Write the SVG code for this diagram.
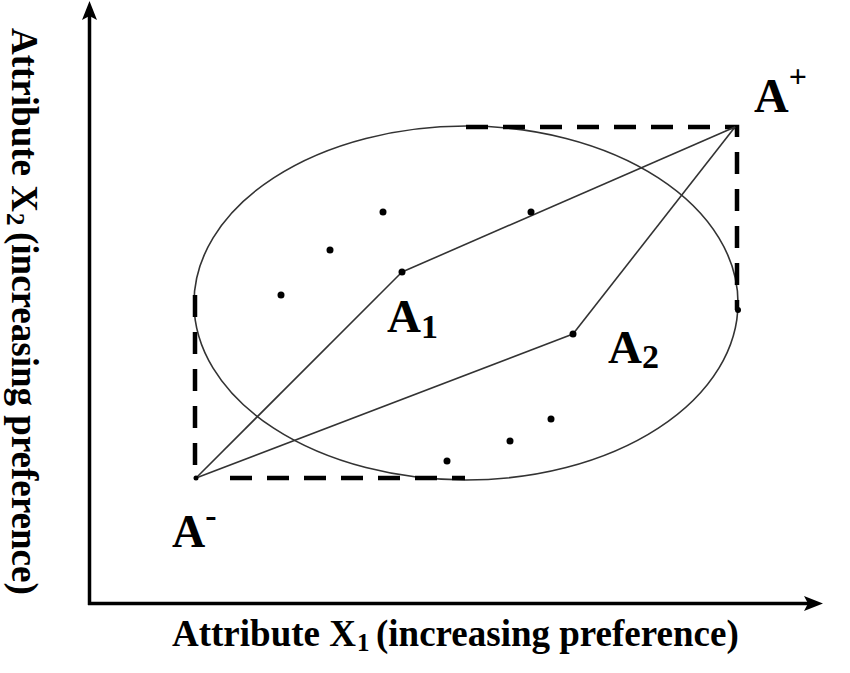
<svg xmlns="http://www.w3.org/2000/svg" width="850" height="673" viewBox="0 0 850 673">
  <defs>
    <style>
      .lbl { font-family: "Liberation Serif", "Times New Roman", serif; font-weight: bold; fill: #000; }
      .axl { font-size: 37px; }
      .sub { font-size: 25px; }
      .axis { stroke: #000; stroke-width: 3.5; fill: none; }
      .head { fill: #000; stroke: none; }
      .thin { stroke: #333; stroke-width: 1.6; fill: none; }
      .dash { stroke: #000; stroke-width: 4.5; fill: none; stroke-dasharray: 22 15; }
      .dot { fill: #000; }
    </style>
  </defs>
  <rect width="850" height="673" fill="#fff"/>

  <g id="axes">
    <line class="axis" x1="89.5" y1="605" x2="89.5" y2="16"/>
    <polygon class="head" points="89.5,1 97,20 89.5,16 82,20"/>
    <line class="axis" x1="88" y1="603.5" x2="808" y2="603.5"/>
    <polygon class="head" points="823,603.5 804,611 808,603.5 804,596"/>
  </g>

  <g id="axis-labels">
    <text class="lbl axl" x="172" y="646">Attribute X</text>
    <text class="lbl sub" x="357" y="651">1</text>
    <text class="lbl axl" x="376" y="646">(increasing preference)</text>
    <g transform="translate(12,28) rotate(90)">
      <text class="lbl axl" x="0" y="0">Attribute X</text>
      <text class="lbl sub" x="185" y="5">2</text>
      <text class="lbl axl" x="204" y="0">(increasing preference)</text>
    </g>
  </g>

  <g id="ellipse">
    <ellipse class="thin" cx="466" cy="303" rx="272" ry="177"/>
  </g>

  <g id="bounding-box">
    <path class="dash" d="M466,127 L737,127 L737,310"/>
    <path class="dash" d="M195,295 L195,478"/>
    <path class="dash" d="M230,478 L465,478"/>
  </g>

  <g id="connectors">
    <line class="thin" x1="196" y1="478" x2="402" y2="272"/>
    <line class="thin" x1="402" y1="272" x2="735" y2="127"/>
    <line class="thin" x1="196" y1="478" x2="573" y2="334"/>
    <line class="thin" x1="573" y1="334" x2="735" y2="127"/>
  </g>

  <g id="points">
    <circle class="dot" cx="281" cy="295" r="3.5"/>
    <circle class="dot" cx="330" cy="250" r="3.5"/>
    <circle class="dot" cx="383" cy="212" r="3.5"/>
    <circle class="dot" cx="531" cy="212" r="3.5"/>
    <circle class="dot" cx="447" cy="461" r="3.5"/>
    <circle class="dot" cx="510" cy="441" r="3.5"/>
    <circle class="dot" cx="551" cy="419" r="3.5"/>
    <circle class="dot" cx="738" cy="310" r="3"/>
    <circle class="dot" cx="196" cy="478" r="2.5"/>
  </g>

  <g id="node-A1">
    <circle class="dot" cx="402" cy="272" r="3.5"/>
    <text class="lbl" x="387" y="332" font-size="47">A<tspan font-size="34" dy="6">1</tspan></text>
  </g>

  <g id="node-A2">
    <circle class="dot" cx="573" cy="334" r="3.5"/>
    <text class="lbl" x="608" y="363" font-size="47">A<tspan font-size="34" dy="5">2</tspan></text>
  </g>

  <g id="node-Aplus">
    <text class="lbl" x="754" y="112" font-size="48">A<tspan font-size="32" dy="-25">+</tspan></text>
  </g>

  <g id="node-Aminus">
    <text class="lbl" x="172" y="547" font-size="46">A<tspan font-size="34" dy="-20">-</tspan></text>
  </g>
</svg>
